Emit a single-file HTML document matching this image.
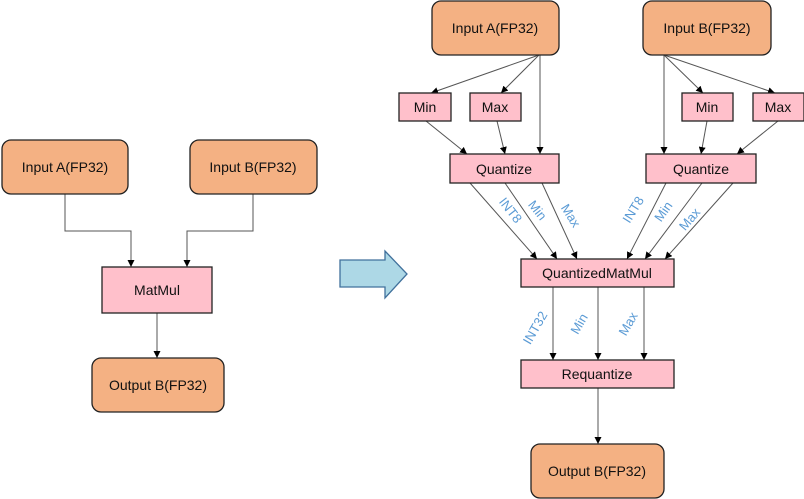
<!DOCTYPE html>
<html><head><meta charset="utf-8"><style>
html,body{margin:0;padding:0;background:#fff;}
svg{display:block;}
text{font-family:"Liberation Sans",sans-serif;fill:#111;}
.l{fill:#5b9bd5;font-size:13px;}
</style></head><body>
<svg width="804" height="499" viewBox="0 0 804 499">
<defs>
<marker id="a" viewBox="0 0 10 10" refX="10" refY="5" markerWidth="7" markerHeight="7" orient="auto-start-reverse" markerUnits="userSpaceOnUse"><path d="M0,0L10,5L0,10z" fill="#000"/></marker>
</defs>
<g stroke="#555" stroke-width="1" fill="none" marker-end="url(#a)">
<!-- left -->
<path d="M65,194V231H131V267"/>
<path d="M253,194V231H187V267"/>
<path d="M157,313V358"/>
<!-- right A -->
<path d="M539,55L431,93"/>
<path d="M539,55L501,93"/>
<path d="M540,55L540,154"/>
<path d="M426,121L467,154"/>
<path d="M497,121L505,154"/>
<!-- right B -->
<path d="M664,55L664,154"/>
<path d="M664,55L703,93"/>
<path d="M664,55L775,93"/>
<path d="M707,121L701,154"/>
<path d="M778,121L737,154"/>
<!-- quantize to qmm -->
<path d="M470,183L537,259"/>
<path d="M505,183L557,259"/>
<path d="M542,183L577,259"/>
<path d="M666,183L627,259"/>
<path d="M702,183L645,259"/>
<path d="M733,183L665,259"/>
<!-- qmm to requant -->
<path d="M553,287V360"/>
<path d="M598,287V360"/>
<path d="M644,287V360"/>
<path d="M598,388V444"/>
</g>
<g stroke="#222" stroke-width="1.3">
<rect x="2" y="140" width="126" height="54" rx="9" fill="#f4b183"/>
<rect x="190" y="140" width="127" height="54" rx="9" fill="#f4b183"/>
<rect x="102" y="267" width="110" height="46" fill="#ffc0cb"/>
<rect x="92" y="358" width="132" height="54" rx="9" fill="#f4b183"/>
<rect x="432" y="1" width="127" height="54" rx="9" fill="#f4b183"/>
<rect x="643" y="1" width="128" height="54" rx="9" fill="#f4b183"/>
<rect x="399" y="93" width="52" height="28" fill="#ffc0cb"/>
<rect x="470" y="93" width="51" height="28" fill="#ffc0cb"/>
<rect x="682" y="93" width="51" height="28" fill="#ffc0cb"/>
<rect x="753" y="93" width="51" height="28" fill="#ffc0cb"/>
<rect x="450" y="154" width="109" height="29" fill="#ffc0cb"/>
<rect x="646" y="154" width="110" height="29" fill="#ffc0cb"/>
<rect x="521" y="259" width="153" height="28" fill="#ffc0cb"/>
<rect x="521" y="360" width="153" height="28" fill="#ffc0cb"/>
<rect x="531" y="444" width="133" height="54" rx="9" fill="#f4b183"/>
</g>
<path d="M340,260H385V251L407,274L385,298V287H340Z" fill="#add8e6" stroke="#41719c" stroke-width="1.3"/>
<g font-size="14" text-anchor="middle">
<text x="65" y="172">Input A(FP32)</text>
<text x="253" y="172">Input B(FP32)</text>
<text x="157" y="295">MatMul</text>
<text x="158" y="390">Output B(FP32)</text>
<text x="495" y="33">Input A(FP32)</text>
<text x="707" y="33">Input B(FP32)</text>
<text x="425" y="112">Min</text>
<text x="495" y="112">Max</text>
<text x="707" y="112">Min</text>
<text x="778" y="112">Max</text>
<text x="504" y="174">Quantize</text>
<text x="701" y="174">Quantize</text>
<text x="597" y="278">QuantizedMatMul</text>
<text x="597" y="379">Requantize</text>
<text x="597" y="476">Output B(FP32)</text>
</g>
<g text-anchor="middle">
<text class="l" transform="translate(507,213) rotate(52)">INT8</text>
<text class="l" transform="translate(534,213) rotate(52)">Min</text>
<text class="l" transform="translate(567,218) rotate(58)">Max</text>
<text class="l" transform="translate(637,212) rotate(-58)">INT8</text>
<text class="l" transform="translate(667,214) rotate(-55)">Min</text>
<text class="l" transform="translate(693,222) rotate(-50)">Max</text>
<text class="l" transform="translate(539,330) rotate(-60)">INT32</text>
<text class="l" transform="translate(583,326) rotate(-60)">Min</text>
<text class="l" transform="translate(632,326) rotate(-60)">Max</text>
</g>
</svg>
</body></html>
